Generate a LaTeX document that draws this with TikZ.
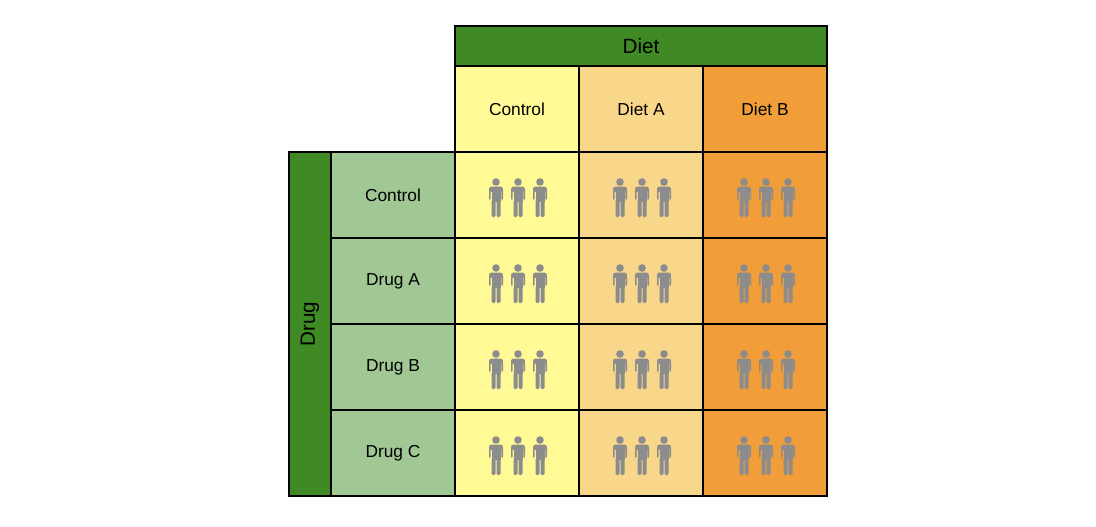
\documentclass[tikz,border=0pt]{standalone}
\usepackage{fontspec}
\setmainfont{Liberation Sans}
\definecolor{dgreen}{HTML}{3F8A24}
\definecolor{lgreen}{HTML}{A1C794}
\definecolor{cyel}{HTML}{FFFA96}
\definecolor{cdA}{HTML}{F8D68A}
\definecolor{cdB}{HTML}{F09D3A}
\definecolor{pgray}{HTML}{8C8C8C}
\begin{document}
\begin{tikzpicture}[x=0.75pt,y=-0.75pt,
  cell/.style={draw=black,line width=0.9pt,minimum width=124*0.75pt,minimum height=86*0.75pt,inner sep=0pt,font=\fontsize{13}{15}\selectfont},
  person/.pic={\fill[pgray] (0,-13) circle (3.8);
    \fill[pgray,rounded corners=2] (-7,-8.5) rectangle (7,-3);
    \fill[pgray] (-4.5,-5) rectangle (4.5,6.5);
    \fill[pgray,rounded corners=1] (-7,-6) rectangle (-5.4,5);
    \fill[pgray,rounded corners=1] (5.4,-6) rectangle (7,5);
    \fill[pgray,rounded corners=1] (-4.5,5) rectangle (-0.5,22);
    \fill[pgray,rounded corners=1] (0.5,5) rectangle (4.5,22);}]
\useasboundingbox (0,0) rectangle (1096,526);
\node[cell,fill=dgreen,minimum width=372*0.75pt,minimum height=40*0.75pt,font=\fontsize{15.5}{17}\selectfont] (diet) at (641,46) {Diet};
\node[cell,fill=dgreen,minimum width=42*0.75pt,minimum height=344*0.75pt] (drug) at (310,324) {};
\node[rotate=90,inner sep=0pt,font=\fontsize{15.5}{17}\selectfont] (drugt) at (drug.center) {Drug};
\foreach \n/\t/\c [count=\i from 0] in {hc/Control/cyel,ha/Diet A/cdA,hb/Diet B/cdB}{
  \node[cell,fill=\c] (\n) at (517+124*\i,109) {\t};
  \foreach \r in {0,...,3}{
    \node[cell,fill=\c] (c\i\r) at (517+124*\i,195+86*\r) {};
    \foreach \dx in {-21,1,23} \pic at ([xshift=\dx*0.75pt]c\i\r.center) {person};
  }}
\foreach \t [count=\r from 0] in {Control,Drug A,Drug B,Drug C}
  \node[cell,fill=lgreen] (r\r) at (393,195+86*\r) {\t};
\end{tikzpicture}
\end{document}
